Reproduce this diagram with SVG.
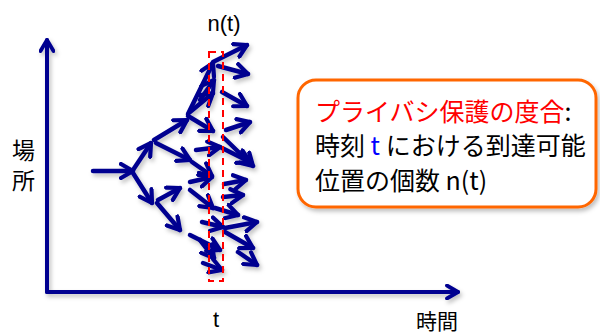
<svg xmlns="http://www.w3.org/2000/svg" width="600" height="334" viewBox="0 0 600 334">
<style>
.ax{stroke:#000090;stroke-width:4;fill:none;stroke-linecap:round}
.ar{stroke:#000090;stroke-width:4.5;fill:none;stroke-linecap:round;marker-end:url(#h)}
.lbl{font-family:"Liberation Sans","Noto Sans CJK JP",sans-serif;fill:#000}
.cjk{font-family:"Noto Sans CJK JP","Liberation Sans",sans-serif}
</style>
<defs>
<marker id="h" viewBox="0 0 18 18" refX="14" refY="9" markerWidth="18" markerHeight="18" markerUnits="userSpaceOnUse" orient="auto">
<path d="M2,2 L14,9 L2,16" fill="none" stroke="#000090" stroke-width="4.2" stroke-linecap="round" stroke-linejoin="round"/>
</marker>
<marker id="ha" viewBox="0 0 16 16" refX="13" refY="8" markerWidth="16" markerHeight="16" markerUnits="userSpaceOnUse" orient="auto">
<path d="M2,1.5 L13,8 L2,14.5" fill="none" stroke="#000090" stroke-width="3.8" stroke-linecap="round" stroke-linejoin="round"/>
</marker>
<filter id="sh" x="-10%" y="-10%" width="130%" height="130%">
<feDropShadow dx="2" dy="3" stdDeviation="2" flood-color="#000" flood-opacity="0.25"/>
</filter>
</defs>
<rect width="600" height="334" fill="#fff"/>
<g id="axes" filter="url(#sh)">
<path class="ax" d="M47,292 L47,40" marker-end="url(#ha)"/>
<path class="ax" d="M47,292 L458,292" marker-end="url(#ha)"/>
</g>
<g id="connectors" filter="url(#sh)">
<line class="ar" x1="93" y1="171" x2="133" y2="171"/>
<line class="ar" x1="133" y1="170" x2="151" y2="143"/>
<line class="ar" x1="133" y1="173" x2="152" y2="203"/>
<line class="ar" x1="154" y1="140" x2="187" y2="120"/>
<line class="ar" x1="156" y1="143" x2="190" y2="160"/>
<line class="ar" x1="188" y1="114" x2="213" y2="63"/>
<line class="ar" x1="213" y1="62" x2="247" y2="45"/>
<line class="ar" x1="218" y1="66" x2="248" y2="74"/>
<line class="ar" x1="190" y1="112" x2="213" y2="93"/>
<line class="ar" x1="188" y1="116" x2="213" y2="131"/>
<line class="ar" x1="222" y1="92" x2="247" y2="106"/>
<line class="ar" x1="226" y1="130" x2="250" y2="122"/>
<line class="ar" x1="223" y1="137" x2="253" y2="166"/>
<line class="ar" x1="196" y1="150" x2="220" y2="147"/>
<line class="ar" x1="222" y1="148" x2="250" y2="162"/>
<line class="ar" x1="190" y1="182" x2="212" y2="177"/>
<line class="ar" x1="190" y1="190" x2="213" y2="208"/>
<line class="ar" x1="223" y1="197" x2="243" y2="195"/>
<line class="ar" x1="224" y1="184" x2="246" y2="180"/>
<line class="ar" x1="158" y1="200" x2="180" y2="188"/>
<line class="ar" x1="157" y1="203" x2="180" y2="230"/>
<line class="ar" x1="202" y1="222" x2="223" y2="227"/>
<line class="ar" x1="225" y1="228" x2="257" y2="222"/>
<line class="ar" x1="190" y1="235" x2="220" y2="250"/>
<line class="ar" x1="225" y1="232" x2="253" y2="248"/>
<line class="ar" x1="238" y1="252" x2="257" y2="265"/>
<line class="ar" x1="203" y1="263" x2="222" y2="270"/>
<line class="ar" x1="192" y1="162" x2="212" y2="176"/>
<line class="ar" x1="215" y1="208" x2="238" y2="215"/>
<line class="ar" x1="200" y1="240" x2="214" y2="258"/>
<line class="ar" x1="200" y1="100" x2="214" y2="80"/>
</g>
<g id="window">
<rect x="209" y="52" width="14" height="229" fill="none" stroke="#ff0000" stroke-width="2" stroke-dasharray="7,5"/>
</g>
<g id="labels">
<text class="lbl" x="224" y="31" font-size="22" text-anchor="middle">n(t)</text>
<text class="lbl" x="216" y="327" font-size="22" text-anchor="middle">t</text>
<text class="lbl" x="416" y="329" font-size="21">時間</text>
<text class="lbl" x="12" y="159" font-size="23">場</text>
<text class="lbl" x="12" y="189" font-size="23">所</text>
</g>
<g id="box">
<rect x="298" y="80" width="298" height="127" rx="18" fill="#fff" stroke="#ff6600" stroke-width="3" filter="url(#sh)"/>
<text class="cjk" x="315" y="121" font-size="25" fill="#000"><tspan fill="#ff0000">プライバシ保護の度合</tspan>:</text>
<text class="cjk" x="315" y="155" font-size="25" fill="#000">時刻 <tspan fill="#0000ff">t</tspan> における到達可能</text>
<text class="cjk" x="315" y="190" font-size="25" fill="#000">位置の個数 n(t)</text>
</g>
</svg>
